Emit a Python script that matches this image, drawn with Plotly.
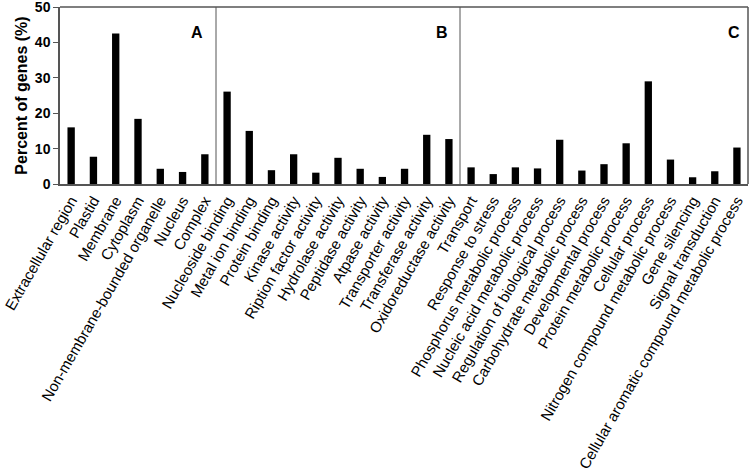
import plotly.graph_objects as go

cats_a = ["Extracellular region", "Plastid", "Membrane", "Cytoplasm",
          "Non-membrane-bounded organelle", "Nucleus", "Complex"]
vals_a = [16.0, 7.7, 42.5, 18.4, 4.3, 3.4, 8.4]

cats_b = ["Nucleoside binding", "Metal ion binding", "Protein binding", "Kinase activity",
          "Ription factor activity", "Hydrolase activity", "Peptidase activity",
          "Atpase activity", "Transporter activity", "Transferase activity",
          "Oxidoreductase activity"]
vals_b = [26.1, 15.0, 3.9, 8.4, 3.2, 7.4, 4.3, 2.0, 4.3, 13.9, 12.7]

cats_c = ["Transport", "Response to stress", "Phosphorus metabolic process",
          "Nucleic acid metabolic process", "Regulation of biological process",
          "Carbohydrate metabolic process", "Developmental process",
          "Protein metabolic process", "Cellular process",
          "Nitrogen compound metabolic process", "Gene silencing",
          "Signal transduction", "Cellular aromatic compound metabolic process"]
vals_c = [4.7, 2.8, 4.7, 4.4, 12.5, 3.8, 5.6, 11.5, 29.0, 6.9, 1.9, 3.6, 10.3]

panel_labels = ["A", "B", "C"]
y_title = "Percent of genes (%)"
y_ticks = [0, 10, 20, 30, 40, 50]

FONT = "Liberation Sans, Arial, sans-serif"
AXC = "#555555"

fig = go.Figure()
groups = [(cats_a, vals_a, "x"), (cats_b, vals_b, "x2"), (cats_c, vals_c, "x3")]
for cats, vals, xa in groups:
    fig.add_trace(go.Bar(x=cats, y=vals, xaxis=xa, yaxis="y",
                         marker=dict(color="black", line=dict(width=0)),
                         width=0.33, showlegend=False))

d1 = 156 / 688
d2 = 400 / 688
tickfont = dict(family=FONT, size=15, color="black")
common_x = dict(type="category", showline=True, linecolor=AXC, linewidth=2,
                ticks="", tickangle=-60, tickfont=tickfont, anchor="y",
                showgrid=False, zeroline=False, mirror=False, automargin=False,
                ticklabeloverflow="allow")
fig.update_layout(
    width=749, height=475,
    margin=dict(l=60, r=1, t=7, b=291, autoexpand=False),
    plot_bgcolor="white", paper_bgcolor="white",
    xaxis=dict(domain=[0, d1], range=[-0.5, len(cats_a) - 0.5], **common_x),
    xaxis2=dict(domain=[d1, d2], range=[-0.5, len(cats_b) - 0.5], **common_x),
    xaxis3=dict(domain=[d2, 1], range=[-0.5, len(cats_c) - 0.5], **common_x),
    yaxis=dict(range=[0, 50], tickvals=y_ticks, ticks="outside", ticklen=5,
               tickcolor=AXC, showline=True, linecolor=AXC, linewidth=1.5,
               showgrid=False, zeroline=False, anchor="x", automargin=False,
               ticklabeloverflow="allow",
               tickfont=dict(family=FONT, size=14, color="black", weight="bold"),
               title=dict(text="<b>" + y_title + "</b>", standoff=3,
                          font=dict(family=FONT, size=16, color="black"))),
)

shapes = [
    dict(type="line", xref="paper", yref="paper", x0=0, x1=1, y0=1, y1=1,
         line=dict(color=AXC, width=1.5)),
    dict(type="line", xref="paper", yref="paper", x0=1, x1=1, y0=0, y1=1,
         line=dict(color=AXC, width=1.5)),
    dict(type="line", xref="paper", yref="paper", x0=d1, x1=d1, y0=0, y1=1,
         line=dict(color=AXC, width=1)),
    dict(type="line", xref="paper", yref="paper", x0=d2, x1=d2, y0=0, y1=1,
         line=dict(color=AXC, width=1)),
]
fig.update_layout(shapes=shapes)

ann_x = [(0.876, "x domain"), (0.925, "x2 domain"), (0.951, "x3 domain")]
for lab, (ax, ref) in zip(panel_labels, ann_x):
    fig.add_annotation(text="<b>" + lab + "</b>", x=ax, xref=ref, y=0.857, yref="paper",
                       showarrow=False, xanchor="center", yanchor="middle",
                       font=dict(family=FONT, size=16, color="black"))

fig.write_html("out.html", config={"displayModeBar": False},
               post_script="document.body.style.margin='0';document.body.style.overflow='hidden';")
